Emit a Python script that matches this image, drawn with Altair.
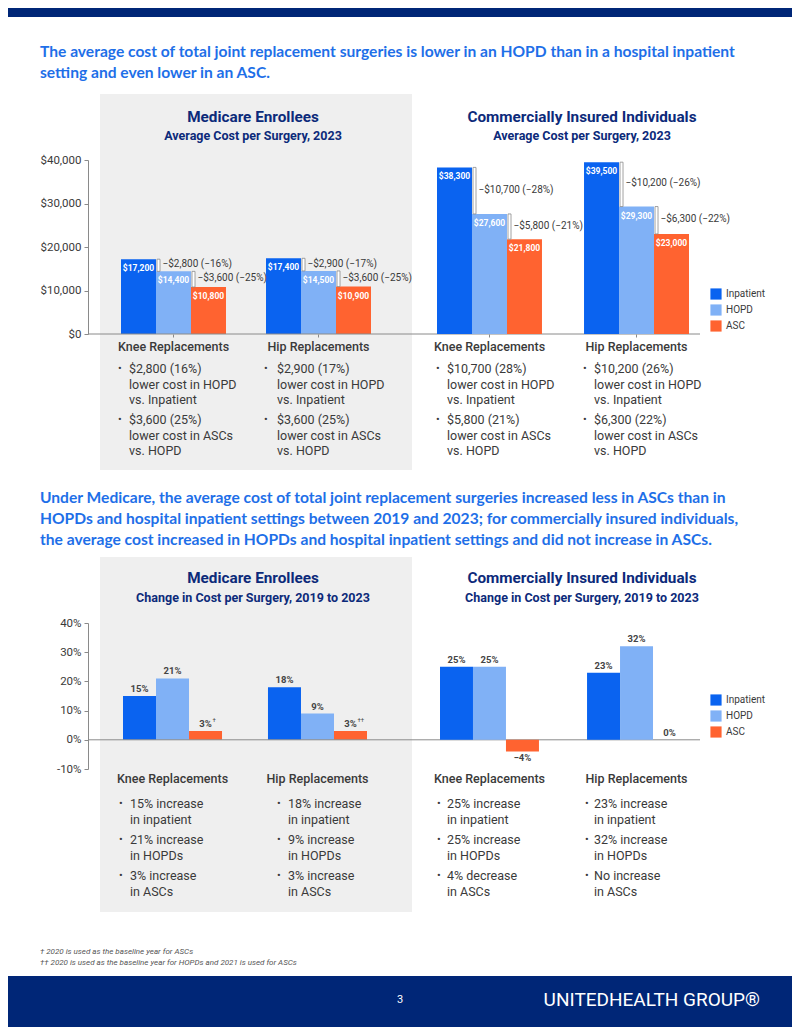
import altair as alt
import pandas as pd

W, H = 784, 1019
M = 8


def cx(v):
    return v - M


def cy(v):
    return v - M


# ---------------- data ----------------
SETTINGS = ["Inpatient", "HOPD", "ASC"]
PROCEDURES = ["Knee Replacements", "Hip Replacements"]
COLORS = ["#0A63F0", "#80B1F6", "#FF6330"]

MED_COST_KNEE = [17200, 14400, 10800]
MED_COST_HIP = [17400, 14500, 10900]
COM_COST_KNEE = [38300, 27600, 21800]
COM_COST_HIP = [39500, 29300, 23000]

MED_DIFF_KNEE = ["−$2,800 (−16%)", "−$3,600 (−25%)"]
MED_DIFF_HIP = ["−$2,900 (−17%)", "−$3,600 (−25%)"]
COM_DIFF_KNEE = ["−$10,700 (−28%)", "−$5,800 (−21%)"]
COM_DIFF_HIP = ["−$10,200 (−26%)", "−$6,300 (−22%)"]

MED_CHG_KNEE = [15, 21, 3]
MED_CHG_HIP = [18, 9, 3]
COM_CHG_KNEE = [25, 25, -4]
COM_CHG_HIP = [23, 32, 0]
MED_CHG_NOTES_KNEE = ["", "", "†"]
MED_CHG_NOTES_HIP = ["", "", "††"]

COST_TICKS = [0, 10000, 20000, 30000, 40000]
CHG_TICKS = [-10, 0, 10, 20, 30, 40]

HEAD1 = [
    "The average cost of total joint replacement surgeries is lower in an HOPD than in a hospital inpatient",
    "setting and even lower in an ASC.",
]
HEAD2 = [
    "Under Medicare, the average cost of total joint replacement surgeries increased less in ASCs than in",
    "HOPDs and hospital inpatient settings between 2019 and 2023; for commercially insured individuals,",
    "the average cost increased in HOPDs and hospital inpatient settings and did not increase in ASCs.",
]
PANEL_TITLES = ["Medicare Enrollees", "Commercially Insured Individuals"]
SUB_COST = "Average Cost per Surgery, 2023"
SUB_CHG = "Change in Cost per Surgery, 2019 to 2023"

BUL_MED_KNEE = [["$2,800 (16%)", "lower cost in HOPD", "vs. Inpatient"],
                ["$3,600 (25%)", "lower cost in ASCs", "vs. HOPD"]]
BUL_MED_HIP = [["$2,900 (17%)", "lower cost in HOPD", "vs. Inpatient"],
               ["$3,600 (25%)", "lower cost in ASCs", "vs. HOPD"]]
BUL_COM_KNEE = [["$10,700 (28%)", "lower cost in HOPD", "vs. Inpatient"],
                ["$5,800 (21%)", "lower cost in ASCs", "vs. HOPD"]]
BUL_COM_HIP = [["$10,200 (26%)", "lower cost in HOPD", "vs. Inpatient"],
               ["$6,300 (22%)", "lower cost in ASCs", "vs. HOPD"]]
BUL2_MED_KNEE = [["15% increase", "in inpatient"], ["21% increase", "in HOPDs"], ["3% increase", "in ASCs"]]
BUL2_MED_HIP = [["18% increase", "in inpatient"], ["9% increase", "in HOPDs"], ["3% increase", "in ASCs"]]
BUL2_COM_KNEE = [["25% increase", "in inpatient"], ["25% increase", "in HOPDs"], ["4% decrease", "in ASCs"]]
BUL2_COM_HIP = [["23% increase", "in inpatient"], ["32% increase", "in HOPDs"], ["No increase", "in ASCs"]]

FOOTNOTES = ["† 2020 is used as the baseline year for ASCs",
             "†† 2020 is used as the baseline year for HOPDs and 2021 is used for ASCs"]
PAGE_NO = "3"
LOGO = "UNITEDHEALTH GROUP®"

# ---------------- styles ----------------
BODY_FONT = "Roboto"
HEAD_FONT = "Lato"
GRAY = "#3a3a3a"
AXIS = "#8a8a8a"
NAVY = "#0C2A7A"
BRIGHT = "#1E6FE8"
BAND = "#002677"
PANEL_BG = "#EFEFEF"

ONE = pd.DataFrame({"k": [0]})


def T(text, x, y, size=12, color=GRAY, weight="normal", align="left",
      font=BODY_FONT, baseline="middle", italic=False, lh=None):
    kw = dict(fontSize=size, color=color, fontWeight=weight, align=align,
              font=font, baseline=baseline)
    if italic:
        kw["fontStyle"] = "italic"
    if lh:
        kw.update(lineBreak="\n", lineHeight=lh)
    return alt.Chart(ONE).mark_text(**kw).encode(
        x=alt.value(cx(x)), y=alt.value(cy(y)), text=alt.value(text))


def R(x0, x1, y0, y1, color):
    return alt.Chart(ONE).mark_rect(color=color).encode(
        x=alt.value(cx(x0)), x2=alt.value(cx(x1)),
        y=alt.value(max(cy(y0), 0)), y2=alt.value(min(cy(y1), H)))


def bars_df(knee, hip, notes_knee=None, notes_hip=None):
    rows = []
    for proc, vals, notes in zip(PROCEDURES, [knee, hip], [notes_knee, notes_hip]):
        for i, (s, v) in enumerate(zip(SETTINGS, vals)):
            rows.append(dict(proc=proc, setting=s, value=v,
                             note=(notes[i] if notes else "")))
    return pd.DataFrame(rows)


def diffs_df(knee, hip, lab_knee, lab_hip):
    rows = []
    for proc, vals, labs in zip(PROCEDURES, [knee, hip], [lab_knee, lab_hip]):
        rows.append(dict(proc=proc, setting="HOPD", hi=vals[0], lo=vals[1], label=labs[0]))
        rows.append(dict(proc=proc, setting="ASC", hi=vals[1], lo=vals[2], label=labs[1]))
    return pd.DataFrame(rows)


def scales(xr, pad, ydom, yr):
    xs = alt.Scale(domain=PROCEDURES, range=[cx(xr[0]), cx(xr[1])],
                   paddingInner=pad, paddingOuter=0)
    ys = alt.Scale(domain=ydom, range=[cy(yr[0]), cy(yr[1])], nice=False, zero=False)
    return xs, ys


def panel(df, xr, pad, ydom, yr, yticks, ylabel_expr, show_y, x_axis_y,
          x_ticks, legend_xy, kind, diffs=None):
    xs, ys = scales(xr, pad, ydom, yr)
    xo = alt.Scale(domain=SETTINGS, paddingInner=0, paddingOuter=0)
    xax = alt.Axis(orient="bottom", offset=cy(x_axis_y) - H, title=None,
                   domain=False, ticks=x_ticks, tickSize=3, tickColor=AXIS,
                   labelPadding=3, labelFont=BODY_FONT, labelFontSize=12.5,
                   labelFontWeight=500, labelColor=GRAY, labelAngle=0, zindex=2)
    if show_y:
        yax = alt.Axis(orient="left", offset=-cx(88), values=yticks,
                       labelExpr=ylabel_expr, title=None, grid=False,
                       domainColor=AXIS, tickColor=AXIS, tickSize=4,
                       labelFont=BODY_FONT, labelFontSize=11.5,
                       labelColor=GRAY, labelPadding=3, zindex=2)
    else:
        yax = None
    X = alt.X("proc:N", scale=xs, axis=xax, sort=PROCEDURES, title=None)
    XO = alt.XOffset("setting:N", scale=xo, sort=SETTINGS)

    def Y(field):
        return alt.Y(field, scale=ys, axis=yax, title=None)

    if legend_xy:
        leg = alt.Legend(orient="none", legendX=cx(legend_xy[0]), legendY=cy(legend_xy[1]),
                         title=None, symbolType="square", symbolSize=125,
                         symbolStrokeWidth=0, symbolOpacity=1, labelFont=BODY_FONT,
                         labelFontSize=10, labelColor=GRAY, rowPadding=4, labelOffset=4)
    else:
        leg = None
    color = alt.Color("setting:N", scale=alt.Scale(domain=SETTINGS, range=COLORS),
                      legend=leg, sort=SETTINGS)

    layers = []
    bars = alt.Chart(df).mark_bar().encode(x=X, xOffset=XO, y=Y("value:Q"), color=color)
    layers.append(bars)
    if kind == "cost":
        layers.append(alt.Chart(df).mark_text(
            color="white", fontWeight="bold", fontSize=8.5, font=BODY_FONT,
            baseline="middle", dy=9).encode(
            x=X, xOffset=XO, y=Y("value:Q"),
            text=alt.Text("value:Q", format="$,.0f")))
        layers.append(alt.Chart(diffs).transform_calculate(
            mid="(datum.hi + datum.lo) / 2").mark_text(
            align="left", baseline="middle", dx=-11, dy=-1, fontSize=10,
            font=BODY_FONT, color=GRAY).encode(
            x=X, xOffset=XO, y=Y("mid:Q"), text="label:N"))
    else:
        lab = alt.Chart(df).transform_calculate(
            lbl="(datum.value < 0 ? '−' + abs(datum.value) : datum.value) + '%'")
        layers.append(lab.transform_filter("datum.value >= 0").mark_text(
            fontWeight="bold", fontSize=9.5, font=BODY_FONT, color="#444",
            baseline="bottom", dy=-2).encode(
            x=X, xOffset=XO, y=Y("value:Q"), text="lbl:N"))
        layers.append(lab.transform_filter("datum.value < 0").mark_text(
            fontWeight="bold", fontSize=9.5, font=BODY_FONT, color="#444",
            baseline="top", dy=2).encode(
            x=X, xOffset=XO, y=Y("value:Q"), text="lbl:N"))
        layers.append(alt.Chart(df).transform_filter("datum.note != ''").mark_text(
            fontSize=6, font=BODY_FONT, color="#444", align="left",
            baseline="bottom", dx=7, dy=-8).encode(
            x=X, xOffset=XO, y=Y("value:Q"), text="note:N"))
    if show_y:
        layers.append(alt.Chart(ONE).mark_rule(color=AXIS, strokeWidth=1).encode(
            y=alt.YDatum(0, scale=ys, axis=yax, title=None),
            x=alt.value(cx(88)), x2=alt.value(cx(700))))
    return alt.layer(*layers)


def brackets(diffs, xr, pad, ydom, yr, bar_w):
    """Thin outlined bracket spanning from the taller bar's top to the next bar's top,
    drawn at the left edge of the lower bar's column (own offset scale shifted left)."""
    xs, ys = scales(xr, pad, ydom, yr)
    bw = 3 * bar_w
    shift = 2.5 - bar_w / 2
    xo = alt.Scale(domain=SETTINGS, range=[shift, bw + shift], paddingInner=0, paddingOuter=0)
    return alt.Chart(diffs).mark_bar(width=3, fill="white", stroke="#8c8c8c",
                                      strokeWidth=0.8).encode(
        x=alt.X("proc:N", scale=xs, axis=None, sort=PROCEDURES),
        xOffset=alt.XOffset("setting:N", scale=xo, sort=SETTINGS),
        y=alt.Y("hi:Q", scale=ys, axis=None),
        y2="lo:Q")


med_diffs = diffs_df(MED_COST_KNEE, MED_COST_HIP, MED_DIFF_KNEE, MED_DIFF_HIP)
com_diffs = diffs_df(COM_COST_KNEE, COM_COST_HIP, COM_DIFF_KNEE, COM_DIFF_HIP)

med_top = panel(bars_df(MED_COST_KNEE, MED_COST_HIP), (121, 371), 0.276,
                [0, 40000], (334, 160), COST_TICKS, "format(datum.value, '$,.0f')",
                True, 334, True, None, "cost", med_diffs)
com_top = panel(bars_df(COM_COST_KNEE, COM_COST_HIP), (437, 689), 0.286,
                [0, 40000], (334, 160), COST_TICKS, "", False, 334, True,
                (710, 288), "cost", com_diffs)
med_br = brackets(med_diffs, (121, 371), 0.276, [0, 40000], (334, 160), 35)
com_br = brackets(com_diffs, (437, 689), 0.286, [0, 40000], (334, 160), 35)
med_bot = panel(bars_df(MED_CHG_KNEE, MED_CHG_HIP, MED_CHG_NOTES_KNEE, MED_CHG_NOTES_HIP),
                (123, 367), 0.317, [-10, 40], (769, 623), CHG_TICKS,
                "datum.value + '%'", True, 769, False, None, "chg")
com_bot = panel(bars_df(COM_CHG_KNEE, COM_CHG_HIP), (440, 686), 0.327,
                [-10, 40], (769, 623), CHG_TICKS, "", False, 769, False,
                (710, 694), "chg")

# ---------------- decorations & text ----------------
decor = [
    R(0, 800, 0, 17, BAND),
    R(100, 412, 94, 470, PANEL_BG),
    R(100, 412, 557, 912, PANEL_BG),
    R(0, 800, 976, 1035, BAND),
]

texts = []
for i, line in enumerate(HEAD1):
    texts.append(T(line, 40, 52 + 21 * i, size=15.6, color=BRIGHT, weight="bold", font=HEAD_FONT))
for i, line in enumerate(HEAD2):
    texts.append(T(line, 40, 498 + 21 * i, size=15.6, color=BRIGHT, weight="bold", font=HEAD_FONT))

for (ty, sy, sub) in [(117, 136, SUB_COST), (578, 598, SUB_CHG)]:
    for cxp, title in zip([253, 582], PANEL_TITLES):
        texts.append(T(title, cxp, ty, size=15.3, color=NAVY, weight="bold", align="center"))
        texts.append(T(sub, cxp, sy, size=12.5, color=NAVY, weight="bold", align="center"))


def bullets(items, bx, tx, y0, lh, gap):
    out = []
    y = y0
    for item in items:
        out.append(T("•", bx, y, size=11, color=GRAY))
        out.append(T("\n".join(item), tx, y - 6, size=12.5, color=GRAY,
                     baseline="top", lh=lh))
        y += lh * len(item) + gap
    return out


texts += bullets(BUL_MED_KNEE, 118, 129, 369, 15.7, 4)
texts += bullets(BUL_MED_HIP, 264, 277, 369, 15.7, 4)
texts += bullets(BUL_COM_KNEE, 436, 447, 369, 15.7, 4)
texts += bullets(BUL_COM_HIP, 583, 594, 369, 15.7, 4)
texts += bullets(BUL2_MED_KNEE, 119, 130, 804, 16, 4)
texts += bullets(BUL2_MED_HIP, 277, 288, 804, 16, 4)
texts += bullets(BUL2_COM_KNEE, 437, 447, 804, 16, 4)
texts += bullets(BUL2_COM_HIP, 585, 594, 804, 16, 4)

for i, fn in enumerate(FOOTNOTES):
    texts.append(T(fn, 40, 952 + 11 * i, size=8, color="#555", italic=True))
texts.append(T(PAGE_NO, 400, 1000, size=11, color="white", align="center"))
texts.append(T(LOGO, 760, 1000, size=19, color="white", align="right", font="Roboto"))

chart = alt.layer(*decor, med_top, com_top, med_br, com_br, med_bot, com_bot, *texts).resolve_scale(
    x="independent", y="independent", xOffset="independent", color="independent"
).resolve_axis(x="independent", y="independent").resolve_legend(
    color="independent"
).properties(
    width=W, height=H, autosize=alt.AutoSizeParams(type="none"), padding=0,
    background="white"
).configure_view(stroke=None)

chart.save("out.html", embed_options={"renderer": "svg", "actions": False})
